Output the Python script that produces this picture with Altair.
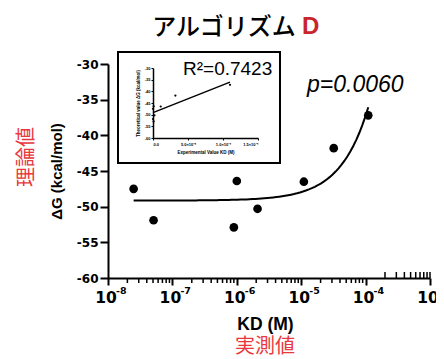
import altair as alt
import pandas as pd
import numpy as np

# ---- data ----
kd = [2.5e-8, 5.1e-8, 9.0e-7, 1.0e-6, 2.1e-6, 1.1e-5, 3.2e-5, 1.1e-4]
dg = [-47.5, -51.9, -52.9, -46.4, -50.3, -46.5, -41.8, -37.2]
y_ticks = [-60, -55, -50, -45, -40, -35, -30]
x_major = [1e-8, 1e-7, 1e-6, 1e-5, 1e-4, 1e-3]
x_major_exp = ["-8", "-7", "-6", "-5", "-4", "-3"]
minor_mult = [2, 3, 4, 5, 6, 7, 8, 9]
inset_x_ticks = [0, 5e-5, 1e-4, 1.5e-4]
inset_x_labels = ["0.0", "5.0×10⁻⁵", "1.0×10⁻⁴", "1.5×10⁻⁴"]
r2_text = "R²=0.7423"
p_text = "p=0.0060"

FONT = "Liberation Sans"
BFONT = "DejaVu Sans"
CJK = "Noto Sans CJK JP"
RED = "#e8373d"
W, H = 322, 214

df = pd.DataFrame({"kd": kd, "dg": dg})

# linear fit of dG against KD (drawn as a curve on the log axis)
slope, intercept = np.polyfit(np.array(kd), np.array(dg), 1)
ckd = np.logspace(np.log10(min(kd)), np.log10(max(kd)), 80)
curve_df = pd.DataFrame({"kd": ckd, "dg": intercept + slope * ckd})
iline_df = pd.DataFrame({"kd": [0.0, max(kd)], "dg": [intercept, intercept + slope * max(kd)]})

major_df = pd.DataFrame({"kd": x_major, "exp": x_major_exp})
minor_below = pd.DataFrame({"kd": [m * 10.0 ** e for e in range(-8, -4) for m in minor_mult]})
minor_above = pd.DataFrame({"kd": [m * 1e-4 for m in minor_mult] + [1e-3]})

xs = alt.Scale(type="log", domain=[1e-8, 1e-3])
ys = alt.Scale(domain=[-60, -30], nice=False)

x_axis = alt.Axis(values=x_major, labels=False, grid=False, tickSize=7, tickWidth=2,
                  domainWidth=2, domainColor="black", tickColor="black",
                  title="KD (M)", titleFont=FONT, titleFontSize=17.5, titleFontWeight="bold",
                  titleColor="black", titleX=157, titleY=51, titleBaseline="alphabetic")
y_axis = alt.Axis(values=y_ticks, tickCount=7, labelExpr="'' + datum.value", labelOverlap=False,
                  grid=False, tickSize=8, tickWidth=2, domainWidth=2, domainColor="black",
                  tickColor="black", labelFont=BFONT, labelFontSize=12, labelFontWeight="bold",
                  labelColor="black", labelPadding=2, title="ΔG (kcal/mol)", titleFont=FONT,
                  titleFontSize=15, titleFontWeight="bold", titleColor="black", titleAngle=270,
                  titleX=-52, titleY=107, titleAlign="center", titleBaseline="middle")

X = alt.X("kd:Q", scale=xs, axis=x_axis)
Y = alt.Y("dg:Q", scale=ys, axis=y_axis)

curve = alt.Chart(curve_df).mark_line(color="black", strokeWidth=2).encode(x=X, y=Y)
pts = alt.Chart(df).mark_circle(size=75, color="black", opacity=1).encode(x=X, y=Y)
tick_b = alt.Chart(minor_below).mark_rule(color="black", strokeWidth=1.5).encode(
    x=X, y=alt.value(H), y2=alt.value(H + 5))
tick_a = alt.Chart(minor_above).mark_rule(color="black", strokeWidth=1.5).encode(
    x=X, y=alt.value(H - 6), y2=alt.value(H))
lab10 = alt.Chart(major_df).mark_text(font=BFONT, fontSize=15.5, fontWeight="bold", color="black",
                                      align="center", baseline="alphabetic", dx=-2).encode(
    x=X, y=alt.value(238.5), text=alt.value("10"))
labexp = alt.Chart(major_df).mark_text(font=BFONT, fontSize=9.5, fontWeight="bold", color="black",
                                       align="left", baseline="alphabetic", dx=8).encode(
    x=X, y=alt.value(230), text="exp:N")

one = pd.DataFrame({"a": [0]})
def label(txt, x, y, **kw):
    return alt.Chart(one).mark_text(**kw).encode(x=alt.value(x), y=alt.value(y), text=alt.value(txt))

title1 = label("アルゴリズム", 116, -29, font=CJK, fontSize=24, fontWeight=500, color="black",
               align="center", baseline="alphabetic")
title2 = label("D", 194, -30, font=FONT, fontSize=24, fontWeight="bold", color="#c9252d",
               align="left", baseline="alphabetic")
ptxt = label(p_text, 199, 28, font=FONT, fontSize=23, fontStyle="italic", color="black",
             align="left", baseline="alphabetic")
r2 = label(r2_text, 75, 11, font=FONT, fontSize=19, color="black", align="left",
           baseline="alphabetic")
jy = label("理論値", -81, 93, font=CJK, fontSize=20, color=RED, angle=270, align="center",
           baseline="middle")
jx = label("実測値", 157, 283, font=CJK, fontSize=20, color=RED, align="center",
           baseline="middle")
frame = alt.Chart(one).mark_rect(stroke="black", strokeWidth=2, fillOpacity=0).encode(
    x=alt.value(10), x2=alt.value(172), y=alt.value(-12), y2=alt.value(99))

main = alt.layer(curve, pts, tick_b, tick_a, lab10, labexp, title1, title2, ptxt, jy, jx, frame, r2)

# ---- inset ----
ixs = alt.Scale(domain=[0, 1.5e-4], range=[45, 150], nice=False)
iys = alt.Scale(domain=[-60, -30], range=[74, 4], nice=False)
ilab_expr = ("datum.value == 0 ? '0.0' : datum.value < 7e-5 ? '5.0×10⁻⁵' : "
             "datum.value < 1.2e-4 ? '1.0×10⁻⁴' : '1.5×10⁻⁴'")
ix_axis = alt.Axis(orient="bottom", offset=-(H - 74), values=inset_x_ticks, labelExpr=ilab_expr,
                   labelOverlap=False, grid=False, tickSize=2, tickWidth=1, domainWidth=1.5,
                   domainColor="black", tickColor="black", labelFont=FONT, labelFontSize=4,
                   labelFontWeight="bold", labelColor="black", labelPadding=2,
                   title="Experimental Value KD (M)", titleFont=FONT, titleFontSize=4.5,
                   titleFontWeight="bold", titleColor="black", titlePadding=3)
iy_axis = alt.Axis(orient="left", offset=-45, values=y_ticks, labelExpr="'' + datum.value",
                   labelOverlap=False, grid=False, tickSize=2, tickWidth=1, domainWidth=1.5,
                   domainColor="black", tickColor="black", labelFont=FONT, labelFontSize=4,
                   labelFontWeight="bold", labelColor="black", labelPadding=1,
                   title="Theoretical value ΔG (kcal/mol)", titleFont=FONT, titleFontSize=4.5,
                   titleFontWeight="bold", titleColor="black", titlePadding=4)
IX = alt.X("kd:Q", scale=ixs, axis=ix_axis)
IY = alt.Y("dg:Q", scale=iys, axis=iy_axis)
ipts = alt.Chart(df).mark_circle(size=5, color="black", opacity=1).encode(x=IX, y=IY)
iline = alt.Chart(iline_df).mark_line(color="black", strokeWidth=1.5).encode(x=IX, y=IY)
inset = alt.layer(ipts, iline)

chart = alt.layer(main, inset).resolve_scale(x="independent", y="independent").properties(
    width=W, height=H,
    autosize=alt.AutoSizeParams(type="none"),
    padding={"left": 100, "top": 56, "right": 6, "bottom": 80},
).configure_view(stroke=None)

chart.save("out.html", embed_options={"renderer": "svg", "actions": False})
